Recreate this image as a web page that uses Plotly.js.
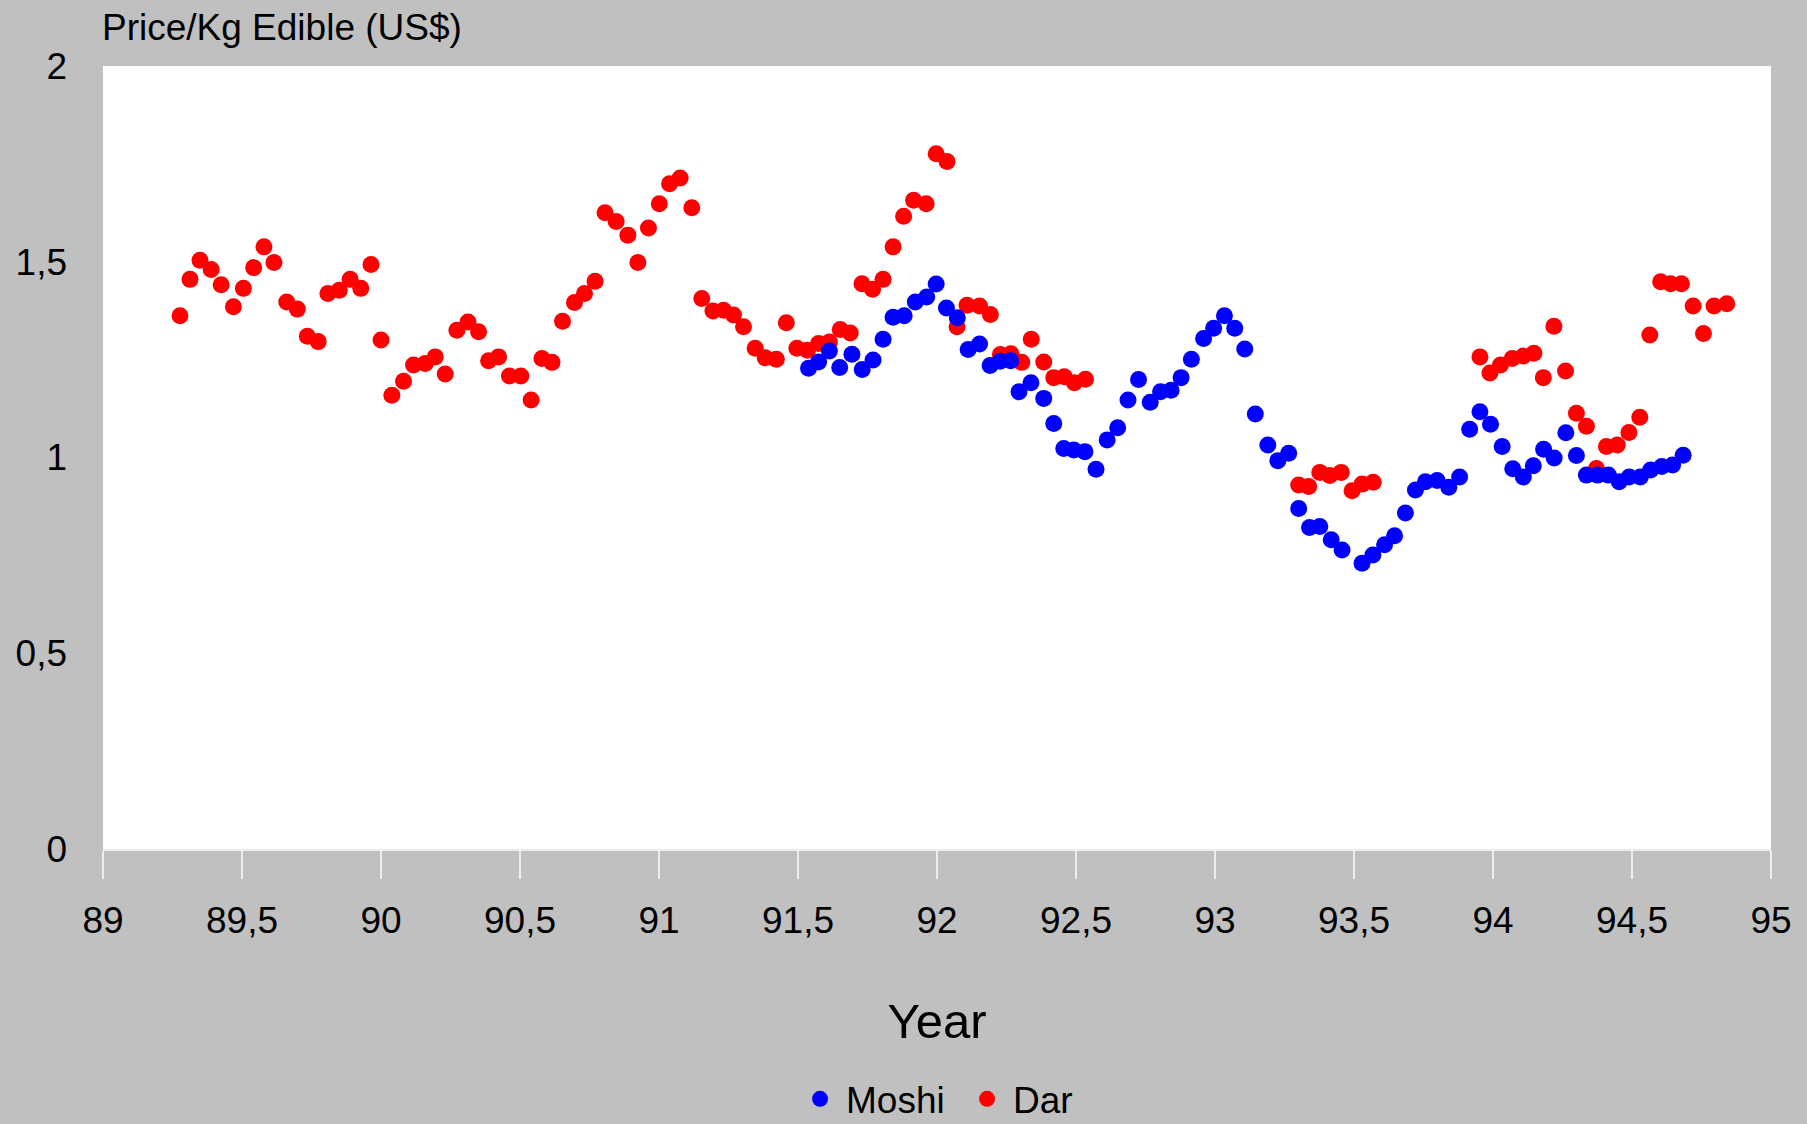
<!DOCTYPE html>
<html>
<head>
<meta charset="utf-8">
<script src="https://cdn.plot.ly/plotly-3.0.1.min.js"></script>
<style>
  html, body { margin: 0; padding: 0; background: #c0c0c0; }
  #chart { width: 1807px; height: 1124px; }
</style>
</head>
<body>
<div id="chart"></div>
<script>
// Dar market: year, price per kg edible (US$)
const darYear = [
  89.277, 89.313, 89.349, 89.389, 89.425, 89.469, 89.505, 89.542, 89.579, 89.615,
  89.661, 89.699, 89.735, 89.774, 89.809, 89.850, 89.889, 89.927, 89.964, 90.000,
  90.039, 90.081, 90.117, 90.159, 90.195, 90.231, 90.273, 90.313, 90.351, 90.387,
  90.423, 90.462, 90.503, 90.540, 90.579, 90.615, 90.653, 90.696, 90.732, 90.770,
  90.806, 90.846, 90.888, 90.924, 90.962, 91.001, 91.038, 91.076, 91.118, 91.154,
  91.194, 91.232, 91.268, 91.304, 91.346, 91.382, 91.422, 91.458, 91.496, 91.534,
  91.574, 91.613, 91.652, 91.688, 91.730, 91.768, 91.806, 91.842, 91.880, 91.916,
  91.961, 91.997, 92.036, 92.072, 92.108, 92.153, 92.192, 92.228, 92.266, 92.305,
  92.339, 92.384, 92.420, 92.458, 92.494, 92.534,
  93.301, 93.337, 93.377, 93.413, 93.454, 93.493, 93.529, 93.569,
  93.953, 93.989, 94.027, 94.069, 94.109, 94.147, 94.181, 94.219, 94.261, 94.300,
  94.336, 94.372, 94.408, 94.447, 94.489, 94.528, 94.564, 94.603, 94.639, 94.678,
  94.720, 94.757, 94.795, 94.841
];
const darPrice = [
  1.362, 1.455, 1.504, 1.480, 1.441, 1.385, 1.432, 1.485, 1.538, 1.498,
  1.397, 1.379, 1.310, 1.296, 1.419, 1.427, 1.455, 1.432, 1.493, 1.300,
  1.159, 1.195, 1.236, 1.240, 1.257, 1.213, 1.325, 1.346, 1.321, 1.247,
  1.257, 1.208, 1.208, 1.147, 1.253, 1.243, 1.348, 1.396, 1.419, 1.450,
  1.625, 1.603, 1.568, 1.498, 1.586, 1.648, 1.699, 1.714, 1.638, 1.406,
  1.374, 1.376, 1.364, 1.334, 1.279, 1.255, 1.251, 1.344, 1.279, 1.274,
  1.291, 1.295, 1.327, 1.318, 1.444, 1.430, 1.455, 1.538, 1.616, 1.657,
  1.648, 1.776, 1.756, 1.334, 1.389, 1.387, 1.365, 1.263, 1.265, 1.243,
  1.302, 1.244, 1.204, 1.206, 1.191, 1.200,
  0.930, 0.926, 0.962, 0.954, 0.962, 0.915, 0.932, 0.937,
  1.257, 1.216, 1.236, 1.253, 1.259, 1.266, 1.204, 1.335, 1.221, 1.113,
  1.080, 0.972, 1.028, 1.032, 1.064, 1.103, 1.313, 1.449, 1.444, 1.444,
  1.387, 1.317, 1.387, 1.393
];

// Moshi market
const moshiYear = [
  91.538, 91.574, 91.613, 91.650, 91.694, 91.731, 91.770, 91.806, 91.842, 91.882,
  91.922, 91.963, 91.997, 92.034, 92.073, 92.112, 92.153, 92.191, 92.227, 92.265,
  92.295, 92.338, 92.384, 92.420, 92.456, 92.492, 92.532, 92.572, 92.612, 92.650,
  92.687, 92.725, 92.767, 92.804, 92.842, 92.878, 92.915, 92.959, 92.995, 93.034,
  93.071, 93.107, 93.145, 93.190, 93.226, 93.265, 93.301, 93.340, 93.377, 93.418,
  93.457, 93.529, 93.568, 93.610, 93.646, 93.685, 93.721, 93.757, 93.799, 93.841,
  93.880, 93.916, 93.953, 93.991, 94.033, 94.071, 94.109, 94.145, 94.182, 94.220,
  94.262, 94.300, 94.336, 94.376, 94.415, 94.454, 94.490, 94.530, 94.567, 94.607,
  94.646, 94.684
];
const moshiPrice = [
  1.228, 1.244, 1.272, 1.230, 1.264, 1.225, 1.249, 1.302, 1.358, 1.362,
  1.397, 1.410, 1.443, 1.382, 1.357, 1.276, 1.290, 1.235, 1.246, 1.247,
  1.168, 1.191, 1.151, 1.087, 1.023, 1.019, 1.015, 0.970, 1.045, 1.076,
  1.147, 1.199, 1.141, 1.168, 1.172, 1.204, 1.251, 1.304, 1.330, 1.362,
  1.330, 1.277, 1.111, 1.032, 0.992, 1.011, 0.870, 0.821, 0.824, 0.790,
  0.764, 0.730, 0.751, 0.777, 0.800, 0.858, 0.917, 0.938, 0.941, 0.924,
  0.950, 1.072, 1.117, 1.085, 1.028, 0.971, 0.950, 0.979, 1.021, 0.999,
  1.063, 1.005, 0.955, 0.955, 0.955, 0.938, 0.950, 0.950, 0.968, 0.977,
  0.981, 1.006
];

const seriesNames = ["Moshi", "Dar"];
const xTitle = "Year";
const yTitle = "Price/Kg Edible (US$)";

const FONT = "Liberation Sans, Arial, Helvetica, sans-serif";

const traces = [
  {
    type: "scatter", mode: "markers", name: seriesNames[1],
    x: darYear, y: darPrice, legendrank: 2,
    marker: { color: "#ff0000", size: 17, line: { width: 0 } }
  },
  {
    type: "scatter", mode: "markers", name: seriesNames[0],
    x: moshiYear, y: moshiPrice, legendrank: 1,
    marker: { color: "#0000ff", size: 17, line: { width: 0 } }
  }
];

const layout = {
  width: 1807, height: 1124,
  paper_bgcolor: "#c0c0c0",
  plot_bgcolor: "#ffffff",
  separators: ", ",
  font: { family: FONT, size: 37, color: "#000000" },
  margin: { l: 103, r: 36, t: 66, b: 275, pad: 0, autoexpand: false },
  showlegend: true,
  legend: {
    orientation: "h", xref: "paper", x: 0.4143, xanchor: "left",
    yref: "container", y: 0.022, yanchor: "middle",
    bgcolor: "rgba(0,0,0,0)", font: { family: FONT, size: 37, color: "#000" },
    itemsizing: "trace", itemwidth: 42, entrywidth: 110
  },
  xaxis: {
    range: [89, 95], tick0: 89, dtick: 0.5, showgrid: false, zeroline: false,
    automargin: false,
    showline: true, linecolor: "#eeeeee", linewidth: 2,
    ticks: "outside", ticklen: 28, tickwidth: 2, tickcolor: "#eeeeee",
    ticklabelstandoff: 10,
    tickfont: { family: FONT, size: 37, color: "#000" },
    title: { text: xTitle, font: { family: FONT, size: 49, color: "#000" }, standoff: 63 }
  },
  yaxis: {
    range: [0, 2], tick0: 0, dtick: 0.5, showgrid: false, zeroline: false,
    automargin: false,
    showline: false, ticks: "", ticklabelstandoff: 35,
    tickfont: { family: FONT, size: 37, color: "#000" }
  },
  annotations: [
    {
      text: yTitle, xref: "paper", yref: "paper", x: 0, y: 1.049, xshift: -3,
      xanchor: "left", yanchor: "middle", showarrow: false,
      font: { family: FONT, size: 37, color: "#000" }
    }
  ]
};

Plotly.newPlot("chart", traces, layout, { displayModeBar: false, staticPlot: true });
</script>
</body>
</html>
